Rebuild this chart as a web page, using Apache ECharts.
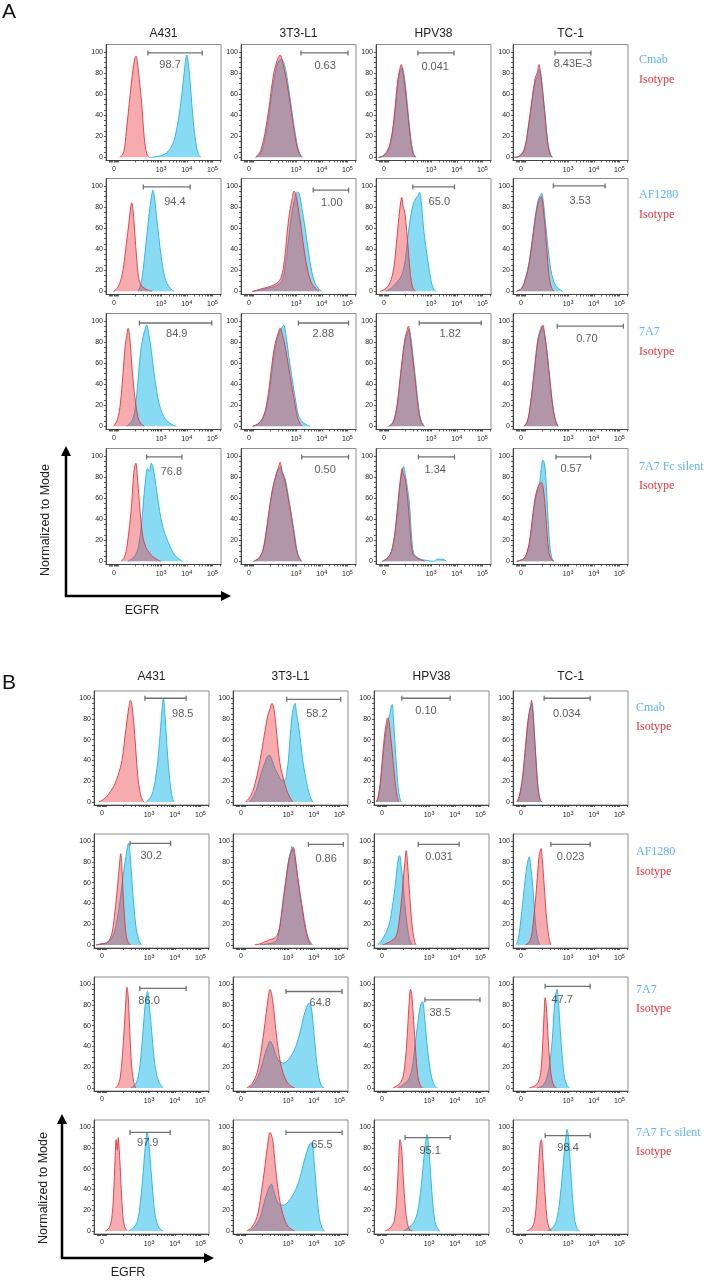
<!DOCTYPE html>
<html><head><meta charset="utf-8">
<script src="https://cdn.jsdelivr.net/npm/echarts@6/dist/echarts.min.js"></script>
<style>html,body{margin:0;padding:0;background:#fff}#c{width:705px;height:1283px}</style>
</head><body><div id="c"></div>
<script>
// ---------- labels ----------
const cellLines = ['A431', '3T3-L1', 'HPV38', 'TC-1'];
const antibodies = ['Cmab', 'AF1280', '7A7', '7A7 Fc silent'];
const isotypeName = 'Isotype';
const xLabelValues = [1.17, 3, 4, 5];
const xLabelText = ['0', '10{s|3}', '10{s|4}', '10{s|5}'];
const yLabelValues = [0, 20, 40, 60, 80, 100];
const xTickValues = [1.0, 1.04, 1.08, 1.12, 1.17, 1.22, 1.26, 1.3, 1.34, 2.0, 2.3, 2.48, 2.6, 2.7, 2.78, 2.85, 2.9, 2.95, 3, 3.3, 3.48, 3.6, 3.7, 3.78, 3.85, 3.9, 3.95, 4, 4.3, 4.48, 4.6, 4.7, 4.78, 4.85, 4.9, 4.95, 5, 5.3];
const yTickValues = [0, 5, 10, 15, 20, 25, 30, 35, 40, 45, 50, 55, 60, 65, 70, 75, 80, 85, 90, 95, 100];

// ---------- Panel A (x = display decades of EGFR, y = % of mode) ----------
const A_Cmab_ab = [
  [[2.55,0],[2.9,1],[3.2,4],[3.4,10],[3.55,20],[3.7,40],[3.82,62],[3.92,85],[4.0,97],[4.06,90],[4.15,65],[4.25,35],[4.35,14],[4.45,3],[4.55,0]],
  [[1.45,0],[1.65,5],[1.85,25],[2.0,50],[2.15,75],[2.3,90],[2.42,93],[2.55,88],[2.7,68],[2.85,42],[3.0,18],[3.12,5],[3.25,0]],
  [[0.95,0],[1.1,1],[1.3,5],[1.45,16],[1.6,42],[1.72,73],[1.8,82],[1.88,85],[1.94,80],[2.02,65],[2.1,45],[2.2,20],[2.3,5],[2.4,0]],
  [[0.9,0],[1.1,1],[1.3,7],[1.45,27],[1.6,54],[1.72,72],[1.8,76],[1.88,83],[1.95,77],[2.02,62],[2.12,38],[2.22,13],[2.32,3],[2.4,0]]
];
const A_Cmab_iso = [
  [[1.4,0],[1.55,5],[1.65,25],[1.78,55],[1.9,82],[1.98,94],[2.03,96],[2.08,90],[2.15,75],[2.25,50],[2.35,18],[2.45,3],[2.55,0]],
  [[1.42,0],[1.62,6],[1.82,27],[1.98,53],[2.12,78],[2.28,93],[2.38,97],[2.5,88],[2.65,70],[2.82,42],[2.98,17],[3.1,5],[3.22,0]],
  [[0.95,0],[1.1,1],[1.3,6],[1.45,18],[1.58,42],[1.7,72],[1.78,83],[1.84,88],[1.9,82],[1.98,68],[2.08,45],[2.2,18],[2.3,4],[2.4,0]],
  [[0.9,0],[1.1,1],[1.3,8],[1.45,28],[1.6,55],[1.72,75],[1.8,80],[1.87,88],[1.93,80],[2.0,65],[2.1,40],[2.2,15],[2.3,3],[2.38,0]]
];
const A_Cmab_gate = [[2.49,4.6,99,'98.7',3.35,88],[3.19,5.02,99,'0.63',4.13,87],[2.49,3.89,99,'0.041',3.16,86],[2.49,3.89,99,'8.43E-3',3.19,89]];

const A_AF1280_ab = [
  [[2.1,0],[2.2,5],[2.3,20],[2.4,42],[2.5,65],[2.58,82],[2.64,92],[2.68,96],[2.74,90],[2.82,72],[2.92,50],[3.02,30],[3.12,16],[3.22,8],[3.35,3],[3.5,0]],
  [[1.3,0],[1.6,1],[1.9,3],[2.2,5],[2.45,10],[2.6,28],[2.72,52],[2.82,72],[2.95,88],[3.05,94],[3.12,93],[3.22,80],[3.35,60],[3.48,38],[3.6,20],[3.75,7],[3.9,2],[4.0,0]],
  [[1.25,0],[1.45,3],[1.65,8],[1.85,15],[2.0,30],[2.1,52],[2.2,70],[2.3,82],[2.4,88],[2.5,91],[2.55,94],[2.62,85],[2.7,62],[2.8,42],[2.9,25],[3.0,10],[3.1,2],[3.2,0]],
  [[1.0,0],[1.2,3],[1.35,13],[1.48,27],[1.6,48],[1.72,70],[1.82,85],[1.9,90],[1.97,93],[2.04,85],[2.12,66],[2.22,42],[2.32,22],[2.45,9],[2.6,3],[2.8,0]]
];
const A_AF1280_iso = [
  [[1.15,0],[1.3,3],[1.45,12],[1.55,25],[1.65,45],[1.75,65],[1.82,80],[1.86,84],[1.92,75],[1.98,55],[2.05,32],[2.12,14],[2.22,6],[2.35,3],[2.5,1],[2.65,0]],
  [[1.3,0],[1.6,2],[1.9,4],[2.2,7],[2.4,12],[2.55,30],[2.65,55],[2.75,75],[2.85,88],[2.92,95],[2.98,93],[3.08,80],[3.2,60],[3.32,38],[3.45,20],[3.6,8],[3.75,3],[3.9,0]],
  [[1.0,0],[1.2,2],[1.4,8],[1.55,22],[1.65,45],[1.75,70],[1.82,85],[1.86,89],[1.92,80],[1.98,75],[2.05,58],[2.12,38],[2.2,15],[2.28,4],[2.38,0]],
  [[1.0,0],[1.2,3],[1.35,12],[1.48,25],[1.6,45],[1.72,68],[1.82,82],[1.9,88],[1.96,90],[2.02,82],[2.1,62],[2.18,38],[2.26,15],[2.35,4],[2.45,0]]
];
const A_AF1280_gate = [[2.31,4.13,99,'94.4',3.54,85],[3.67,5.04,96,'1.00',4.39,84],[2.29,3.91,99,'65.0',3.32,85],[2.43,4.44,100,'3.53',3.47,86]];

const A_7A7_ab = [
  [[1.65,0],[1.8,3],[1.92,8],[2.0,18],[2.1,42],[2.2,70],[2.3,85],[2.38,92],[2.44,96],[2.52,88],[2.62,72],[2.72,52],[2.82,35],[2.92,22],[3.05,12],[3.2,6],[3.4,2],[3.6,0]],
  [[1.3,0],[1.5,2],[1.7,7],[1.85,18],[2.0,40],[2.12,64],[2.24,80],[2.36,90],[2.46,94],[2.52,96],[2.6,88],[2.72,66],[2.85,45],[2.98,25],[3.1,10],[3.25,4],[3.45,1],[3.55,0]],
  [[1.35,0],[1.5,3],[1.62,11],[1.72,27],[1.82,50],[1.92,70],[2.0,82],[2.08,88],[2.14,92],[2.22,84],[2.32,62],[2.42,40],[2.52,17],[2.62,5],[2.75,0]],
  [[1.3,0],[1.42,5],[1.52,17],[1.62,37],[1.72,60],[1.82,82],[1.92,92],[1.98,95],[2.04,92],[2.12,82],[2.22,62],[2.32,38],[2.42,17],[2.52,5],[2.62,0]]
];
const A_7A7_iso = [
  [[1.15,0],[1.3,6],[1.42,22],[1.52,50],[1.6,75],[1.66,85],[1.72,93],[1.78,85],[1.85,62],[1.92,42],[2.0,24],[2.1,9],[2.2,3],[2.35,0]],
  [[1.3,0],[1.5,2],[1.7,8],[1.85,20],[1.98,42],[2.1,66],[2.2,80],[2.3,88],[2.38,93],[2.46,88],[2.58,75],[2.7,58],[2.82,40],[2.95,22],[3.05,9],[3.15,3],[3.25,0]],
  [[1.35,0],[1.5,3],[1.62,12],[1.72,28],[1.82,50],[1.92,72],[2.0,85],[2.06,90],[2.12,95],[2.2,82],[2.3,62],[2.4,40],[2.5,18],[2.6,5],[2.72,0]],
  [[1.3,0],[1.42,5],[1.52,18],[1.62,38],[1.72,60],[1.82,80],[1.9,88],[1.96,92],[2.02,96],[2.1,86],[2.2,66],[2.3,42],[2.4,20],[2.5,7],[2.6,0]]
];
const A_7A7_gate = [[2.16,4.97,98,'84.9',3.61,88],[3.09,5.04,98,'2.88',4.06,88],[2.54,4.95,98,'1.82',3.74,88],[2.58,5.15,95,'0.70',3.73,83]];

const A_Fc_ab = [
  [[1.7,0],[1.9,3],[2.05,8],[2.15,18],[2.25,38],[2.32,58],[2.4,78],[2.48,88],[2.55,85],[2.62,93],[2.7,88],[2.8,72],[2.9,55],[3.0,40],[3.1,30],[3.2,23],[3.35,14],[3.5,7],[3.7,2],[3.85,0]],
  [[1.35,0],[1.55,3],[1.7,9],[1.82,24],[1.95,46],[2.08,67],[2.2,80],[2.3,87],[2.4,90],[2.48,84],[2.58,78],[2.7,62],[2.82,44],[2.94,26],[3.04,10],[3.14,3],[3.22,0]],
  [[1.1,0],[1.25,2],[1.4,6],[1.5,13],[1.6,27],[1.7,50],[1.8,74],[1.88,86],[1.93,90],[2.0,82],[2.08,70],[2.16,55],[2.24,25],[2.32,8],[2.45,4],[2.6,2],[2.8,1],[3.1,0],[3.25,2],[3.45,2],[3.6,0]],
  [[1.0,0],[1.15,1],[1.3,3],[1.42,9],[1.52,20],[1.62,40],[1.72,58],[1.82,68],[1.9,75],[1.96,88],[2.02,96],[2.08,93],[2.14,78],[2.2,50],[2.28,18],[2.36,4],[2.45,0]]
];
const A_Fc_iso = [
  [[1.45,0],[1.58,4],[1.68,15],[1.78,35],[1.86,55],[1.92,78],[1.97,90],[2.02,93],[2.08,80],[2.15,58],[2.22,38],[2.3,22],[2.42,13],[2.55,8],[2.7,4],[2.9,1],[3.0,0]],
  [[1.35,0],[1.55,3],[1.7,10],[1.82,25],[1.95,48],[2.08,68],[2.2,80],[2.3,88],[2.38,94],[2.45,85],[2.55,78],[2.68,62],[2.8,45],[2.92,26],[3.02,10],[3.12,3],[3.2,0]],
  [[1.1,0],[1.25,2],[1.4,6],[1.5,13],[1.6,28],[1.7,52],[1.8,76],[1.88,88],[1.93,82],[1.98,80],[2.04,70],[2.12,52],[2.2,25],[2.28,8],[2.4,4],[2.55,2],[2.75,0]],
  [[1.0,0],[1.15,1],[1.3,3],[1.42,10],[1.52,22],[1.62,42],[1.72,60],[1.82,70],[1.9,74],[1.96,75],[2.02,72],[2.1,55],[2.18,28],[2.26,8],[2.35,2],[2.45,0]]
];
const A_Fc_gate = [[2.44,3.81,99,'76.8',3.4,85],[3.22,5.04,99,'0.50',4.13,87],[2.51,3.91,99,'1.34',3.16,87],[2.53,3.88,99,'0.57',3.12,88]];

// ---------- Panel B ----------
const B_Cmab_ab = [
  [[2.9,0],[3.05,4],[3.15,10],[3.25,22],[3.35,42],[3.42,62],[3.48,82],[3.53,96],[3.56,100],[3.6,90],[3.66,68],[3.72,45],[3.8,22],[3.88,7],[3.96,0]],
  [[1.5,0],[1.65,5],[1.8,14],[1.95,27],[2.1,38],[2.2,44],[2.28,45],[2.38,40],[2.5,32],[2.62,26],[2.75,21],[2.88,21],[2.96,30],[3.02,42],[3.08,62],[3.14,80],[3.2,90],[3.27,95],[3.33,85],[3.4,75],[3.47,62],[3.56,42],[3.66,27],[3.76,14],[3.86,5],[3.96,0]],
  [[0.95,0],[1.02,4],[1.1,15],[1.18,35],[1.26,55],[1.34,70],[1.42,80],[1.48,85],[1.53,92],[1.57,94],[1.62,78],[1.68,55],[1.74,32],[1.8,14],[1.86,4],[1.92,0]],
  [[1.02,0],[1.1,5],[1.2,17],[1.28,34],[1.36,56],[1.44,76],[1.5,86],[1.55,93],[1.6,95],[1.64,88],[1.7,64],[1.76,40],[1.82,18],[1.88,6],[1.94,1],[2.0,0]]
];
const B_Cmab_iso = [
  [[1.05,0],[1.2,2],[1.35,5],[1.5,10],[1.65,16],[1.8,26],[1.95,40],[2.05,60],[2.15,80],[2.22,92],[2.28,98],[2.32,96],[2.4,78],[2.48,52],[2.56,25],[2.66,8],[2.76,1],[2.82,0]],
  [[1.35,0],[1.5,4],[1.62,10],[1.72,18],[1.85,32],[1.98,50],[2.1,68],[2.2,82],[2.3,90],[2.38,95],[2.45,90],[2.52,76],[2.6,55],[2.68,38],[2.78,26],[2.88,17],[2.98,9],[3.08,4],[3.18,0]],
  [[0.95,0],[1.02,5],[1.1,18],[1.18,40],[1.26,62],[1.33,75],[1.39,81],[1.44,78],[1.5,65],[1.57,48],[1.63,32],[1.7,15],[1.76,5],[1.82,0]],
  [[1.02,0],[1.1,5],[1.2,18],[1.28,35],[1.36,58],[1.44,78],[1.5,88],[1.54,92],[1.58,98],[1.62,90],[1.68,68],[1.74,45],[1.8,22],[1.86,8],[1.92,2],[1.98,0]]
];
const B_Cmab_gate = [[2.84,4.44,100,'98.5',4.31,85],[2.95,5.05,99,'58.2',4.12,85],[1.94,3.82,100,'0.10',2.88,88],[2.07,3.86,100,'0.034',2.95,85]];

const B_AF1280_ab = [
  [[0.95,0],[1.15,1],[1.35,2],[1.5,5],[1.65,12],[1.8,30],[1.92,52],[2.02,72],[2.1,85],[2.16,95],[2.2,98],[2.26,88],[2.34,60],[2.42,35],[2.5,16],[2.6,5],[2.7,0]],
  [[1.9,0],[2.2,1],[2.5,3],[2.62,9],[2.72,24],[2.82,45],[2.92,65],[3.02,82],[3.1,90],[3.15,95],[3.2,92],[3.28,82],[3.38,63],[3.48,45],[3.58,28],[3.68,14],[3.78,5],[3.88,0]],
  [[1.0,0],[1.12,3],[1.22,7],[1.35,13],[1.48,23],[1.58,38],[1.68,56],[1.76,75],[1.82,85],[1.86,86],[1.92,75],[1.98,62],[2.05,42],[2.12,25],[2.2,10],[2.28,3],[2.35,0]],
  [[0.98,0],[1.06,5],[1.13,17],[1.2,32],[1.26,46],[1.33,62],[1.39,75],[1.45,82],[1.49,85],[1.55,75],[1.63,56],[1.69,35],[1.75,17],[1.82,6],[1.9,0]]
];
const B_AF1280_iso = [
  [[0.95,0],[1.15,1],[1.35,2],[1.5,7],[1.6,17],[1.7,38],[1.78,58],[1.85,78],[1.9,88],[1.95,72],[2.0,45],[2.06,22],[2.12,8],[2.2,2],[2.3,0]],
  [[1.7,0],[1.9,1],[2.1,3],[2.3,5],[2.5,7],[2.62,12],[2.72,25],[2.82,45],[2.92,62],[3.02,80],[3.1,88],[3.16,92],[3.21,94],[3.28,85],[3.38,65],[3.48,48],[3.58,32],[3.68,17],[3.78,7],[3.88,2],[3.95,0]],
  [[1.2,0],[1.4,2],[1.6,5],[1.74,10],[1.85,25],[1.94,46],[2.02,70],[2.07,82],[2.11,91],[2.16,80],[2.22,58],[2.3,30],[2.37,13],[2.44,3],[2.5,0]],
  [[1.35,0],[1.5,3],[1.6,12],[1.68,30],[1.75,48],[1.82,70],[1.87,85],[1.92,91],[1.95,93],[2.0,82],[2.06,62],[2.12,40],[2.18,22],[2.25,8],[2.33,0]]
];
const B_AF1280_gate = [[2.26,3.84,98,'30.2',3.08,86],[3.79,5.15,97,'0.86',4.48,83],[2.58,4.17,97,'0.031',3.39,85],[2.33,3.86,97,'0.023',3.1,85]];

const B_7A7_ab = [
  [[2.3,0],[2.45,3],[2.55,8],[2.65,22],[2.75,50],[2.84,78],[2.9,90],[2.94,93],[3.0,82],[3.1,55],[3.2,28],[3.3,12],[3.42,4],[3.55,0]],
  [[1.5,0],[1.7,5],[1.9,15],[2.05,28],[2.2,40],[2.3,45],[2.42,40],[2.55,30],[2.7,25],[2.85,24],[3.0,27],[3.15,32],[3.3,40],[3.45,52],[3.6,68],[3.72,78],[3.82,82],[3.9,78],[4.0,55],[4.1,28],[4.2,10],[4.3,2],[4.4,0]],
  [[1.8,0],[2.0,3],[2.2,8],[2.35,20],[2.45,40],[2.55,60],[2.63,75],[2.7,82],[2.75,83],[2.82,70],[2.9,48],[3.0,25],[3.1,10],[3.2,3],[3.3,0]],
  [[1.8,0],[2.0,2],[2.15,8],[2.28,22],[2.38,45],[2.46,75],[2.52,90],[2.57,95],[2.62,85],[2.7,55],[2.78,28],[2.86,10],[2.95,3],[3.05,0]]
];
const B_7A7_iso = [
  [[1.7,0],[1.8,3],[1.88,10],[1.96,30],[2.04,60],[2.1,85],[2.14,97],[2.19,88],[2.25,55],[2.32,22],[2.4,6],[2.48,0]],
  [[1.4,0],[1.6,4],[1.8,15],[1.95,35],[2.1,62],[2.2,82],[2.3,95],[2.4,85],[2.5,62],[2.6,40],[2.7,25],[2.8,15],[2.95,6],[3.1,2],[3.25,0]],
  [[1.6,0],[1.8,3],[1.95,8],[2.05,20],[2.15,50],[2.22,80],[2.28,95],[2.33,90],[2.4,65],[2.48,35],[2.56,12],[2.65,3],[2.75,0]],
  [[1.5,0],[1.7,2],[1.85,6],[1.95,18],[2.02,45],[2.07,72],[2.11,87],[2.16,78],[2.22,50],[2.3,22],[2.38,7],[2.46,2],[2.55,0]]
];
const B_7A7_gate = [[2.64,4.44,96,'86.0',3.0,84],[2.92,5.1,93,'64.8',4.25,82],[2.84,4.98,85,'38.5',3.43,72],[2.11,3.86,98,'47.7',2.77,85]];

const B_Fc_ab = [
  [[2.2,0],[2.4,3],[2.55,10],[2.65,25],[2.75,50],[2.83,75],[2.88,88],[2.92,95],[2.97,90],[3.04,70],[3.12,45],[3.2,22],[3.3,8],[3.42,2],[3.55,0]],
  [[1.5,0],[1.7,4],[1.9,12],[2.05,25],[2.2,38],[2.35,45],[2.45,38],[2.55,30],[2.7,25],[2.85,25],[3.0,28],[3.15,33],[3.3,40],[3.45,50],[3.6,65],[3.75,78],[3.85,84],[3.93,85],[4.02,65],[4.12,35],[4.22,12],[4.32,3],[4.42,0]],
  [[2.0,0],[2.2,3],[2.4,8],[2.55,18],[2.68,40],[2.78,65],[2.86,85],[2.92,93],[2.98,82],[3.06,55],[3.14,28],[3.22,10],[3.32,3],[3.42,0]],
  [[2.2,0],[2.4,3],[2.55,10],[2.68,30],[2.78,55],[2.86,78],[2.92,92],[2.96,98],[3.02,90],[3.1,60],[3.18,30],[3.26,10],[3.36,2],[3.45,0]]
];
const B_Fc_iso = [
  [[1.3,0],[1.45,3],[1.55,12],[1.62,35],[1.68,70],[1.72,88],[1.76,78],[1.8,90],[1.86,70],[1.92,40],[1.98,15],[2.05,4],[2.15,0]],
  [[1.4,0],[1.6,4],[1.8,14],[1.95,35],[2.1,62],[2.2,82],[2.3,95],[2.4,88],[2.5,64],[2.6,42],[2.7,26],[2.8,16],[2.95,6],[3.1,2],[3.25,0]],
  [[1.3,0],[1.5,3],[1.65,10],[1.75,35],[1.82,70],[1.87,88],[1.93,80],[2.0,50],[2.08,22],[2.16,7],[2.25,1],[2.35,0]],
  [[1.4,0],[1.55,2],[1.68,8],[1.78,30],[1.86,65],[1.92,85],[1.96,88],[2.02,70],[2.1,38],[2.18,12],[2.26,3],[2.35,0]]
];
const B_Fc_gate = [[2.26,3.82,95,'97.9',2.95,85],[2.92,5.1,95,'65.5',4.32,83],[2.07,3.82,90,'95.1',3.04,77],[2.11,3.86,92,'98.4',3.0,80]];

// ---------- assembly ----------
const panelRows = {
  A: [[A_Cmab_ab, A_Cmab_iso, A_Cmab_gate], [A_AF1280_ab, A_AF1280_iso, A_AF1280_gate], [A_7A7_ab, A_7A7_iso, A_7A7_gate], [A_Fc_ab, A_Fc_iso, A_Fc_gate]],
  B: [[B_Cmab_ab, B_Cmab_iso, B_Cmab_gate], [B_AF1280_ab, B_AF1280_iso, B_AF1280_gate], [B_7A7_ab, B_7A7_iso, B_7A7_gate], [B_Fc_ab, B_Fc_iso, B_Fc_gate]]
};
const layout = {
  A: { lefts: [106, 241, 376, 513], tops: [44.5, 178.5, 313.5, 448.5], height: 116, titleY: 34, legendX: 639, legendY: [[60, 80], [195, 215], [332, 352], [467, 486]], letterY: 12,
       arrow: { x: 66, y: 596, top: 446, right: 231 }, yTitle: [46, 520], xTitle: [142, 611] },
  B: { lefts: [94, 233, 374, 513], tops: [691, 834, 977, 1120], height: 114, titleY: 677, legendX: 636, legendY: [[708, 727], [852, 872], [990, 1009], [1133, 1152]], letterY: 683,
       arrow: { x: 62, y: 1258, top: 1114, right: 214 }, yTitle: [44, 1188], xTitle: [128, 1273] }
};
const W = 115;
const SANS = '"Liberation Sans", Arial, sans-serif';
const SERIF = '"Liberation Serif", "Times New Roman", serif';
const BLUE_TXT = '#5fb2ef', RED_TXT = '#e8323a';

const grids = [], xAxes = [], yAxes = [], series = [], graphics = [];
let gi = 0;
['A', 'B'].forEach(p => {
  const L = layout[p];
  graphics.push({ type: 'text', x: 2, y: L.letterY, style: { text: p, fill: '#111', fontSize: 21, fontFamily: SANS, align: 'left', verticalAlign: 'middle' } });
  cellLines.forEach((name, c) => {
    graphics.push({ type: 'text', x: L.lefts[c] + W / 2, y: L.titleY, style: { text: name, fill: '#222', fontSize: 12, fontFamily: SANS, align: 'center', verticalAlign: 'middle' } });
  });
  panelRows[p].forEach((rowData, r) => {
    const [abArr, isoArr, gateArr] = rowData;
    graphics.push({ type: 'text', x: L.legendX, y: L.legendY[r][0], style: { text: antibodies[r], fill: BLUE_TXT, fontSize: 12, fontFamily: SERIF, align: 'left', verticalAlign: 'middle' } });
    graphics.push({ type: 'text', x: L.legendX, y: L.legendY[r][1], style: { text: isotypeName, fill: RED_TXT, fontSize: 12, fontFamily: SERIF, align: 'left', verticalAlign: 'middle' } });
    for (let c = 0; c < 4; c++) {
      grids.push({ left: L.lefts[c], top: L.tops[r], width: W, height: L.height, show: true, borderColor: '#8c8c8c', borderWidth: 1, backgroundColor: '#fff' });
      xAxes.push({
        gridIndex: gi, type: 'value', min: 0.86, max: 5.33,
        axisLine: { show: true, onZero: false, lineStyle: { color: '#444', width: 1 } },
        axisTick: { show: true, customValues: xTickValues, length: 2, lineStyle: { color: '#333', width: 0.8 } },
        axisLabel: { customValues: xLabelValues, fontSize: 7, color: '#222', margin: 5, fontFamily: SANS,
          rich: { s: { fontSize: 5.5, color: '#222', fontFamily: SANS, verticalAlign: 'bottom', padding: [0, 0, 4, 0] } },
          formatter: v => { const k = xLabelValues.findIndex(t => Math.abs(t - v) < 1e-6); return k >= 0 ? xLabelText[k] : ''; } },
        splitLine: { show: false }
      });
      yAxes.push({
        gridIndex: gi, type: 'value', min: -3, max: 107,
        axisLine: { show: true, onZero: false, lineStyle: { color: '#444', width: 1 } },
        axisTick: { show: true, customValues: yTickValues, length: 2, lineStyle: { color: '#333', width: 0.8 } },
        axisLabel: { customValues: yLabelValues, fontSize: 7, color: '#222', margin: 3, fontFamily: SANS },
        splitLine: { show: false }
      });
      series.push({ type: 'line', xAxisIndex: gi, yAxisIndex: gi, data: abArr[c], smooth: 0.35, symbol: 'none', z: 2,
        lineStyle: { color: '#22b2e2', width: 0.9 }, areaStyle: { color: 'rgba(45,190,235,0.8)' } });
      series.push({ type: 'line', xAxisIndex: gi, yAxisIndex: gi, data: isoArr[c], smooth: 0.35, symbol: 'none', z: 3,
        lineStyle: { color: '#e3343c', width: 0.9 }, areaStyle: { color: 'rgba(232,50,58,0.58)' } });
      const g = gateArr[c];
      series.push({ type: 'line', xAxisIndex: gi, yAxisIndex: gi, data: [[g[0], g[2]], [g[1], g[2]]], symbol: 'rect', symbolSize: [1.3, 5], showSymbol: true, z: 4,
        lineStyle: { color: '#707070', width: 1.3 }, itemStyle: { color: '#707070' } });
      series.push({ type: 'scatter', xAxisIndex: gi, yAxisIndex: gi, data: [[g[4], g[5]]], symbolSize: 1, z: 5,
        itemStyle: { color: 'rgba(0,0,0,0)' },
        label: { show: true, position: 'inside', formatter: g[3], fontSize: 11, color: '#333', fontFamily: SANS } });
      gi++;
    }
  });
  // axis arrows and titles
  const a = L.arrow;
  graphics.push({ type: 'line', shape: { x1: a.x, y1: a.y, x2: a.x, y2: a.top + 9 }, style: { stroke: '#000', lineWidth: 2.5 } });
  graphics.push({ type: 'polygon', shape: { points: [[a.x - 5, a.top + 10], [a.x + 5, a.top + 10], [a.x, a.top]] }, style: { fill: '#000' } });
  graphics.push({ type: 'line', shape: { x1: a.x - 1.2, y1: a.y, x2: a.right - 9, y2: a.y }, style: { stroke: '#000', lineWidth: 2.5 } });
  graphics.push({ type: 'polygon', shape: { points: [[a.right - 10, a.y - 5], [a.right - 10, a.y + 5], [a.right, a.y]] }, style: { fill: '#000' } });
  graphics.push({ type: 'text', x: L.yTitle[0], y: L.yTitle[1], rotation: Math.PI / 2, style: { text: 'Normalized to Mode', fill: '#222', fontSize: 12.5, fontFamily: SANS, align: 'center', verticalAlign: 'middle' } });
  graphics.push({ type: 'text', x: L.xTitle[0], y: L.xTitle[1], style: { text: 'EGFR', fill: '#222', fontSize: 12.5, fontFamily: SANS, align: 'center', verticalAlign: 'middle' } });
});

const chart = echarts.init(document.getElementById('c'), null, { renderer: 'canvas' });
chart.setOption({
  animation: false,
  backgroundColor: '#fff',
  grid: grids, xAxis: xAxes, yAxis: yAxes, series: series,
  graphic: { elements: graphics }
});
</script></body></html>
